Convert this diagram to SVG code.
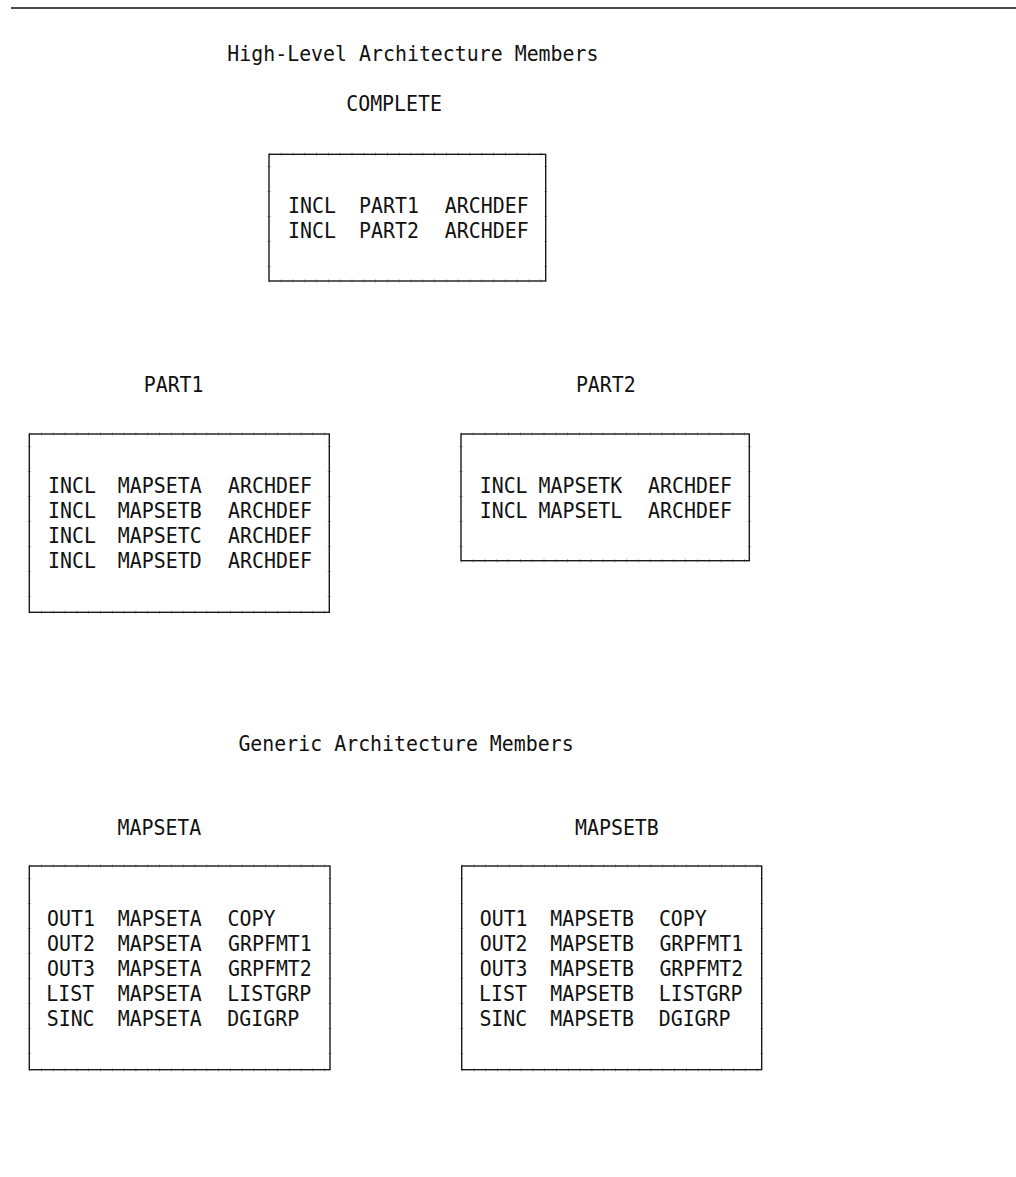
<svg xmlns="http://www.w3.org/2000/svg" width="1016" height="1177" viewBox="0 0 1016 1177">
<style>
  text { font-family: "DejaVu Sans Mono", "Liberation Mono", monospace; font-size: 19.9px; fill: #111; }
  .box { fill: none; stroke: #1a1a1a; stroke-width: 1.4; }
  .tickh { stroke: #b0b0b0; stroke-width: 3.5; stroke-dasharray: 0.8 11; fill: none; }
  .tickv { stroke: #b0b0b0; stroke-width: 3.5; stroke-dasharray: 0.8 24.2; fill: none; }
</style>
<rect x="0" y="0" width="1016" height="1177" fill="#ffffff"/>
<line x1="11" y1="8" x2="1016" y2="8" stroke="#111" stroke-width="1.5"/>

<g id="titles">
  <text transform="translate(227.3,60.5) scale(1,1.1)">High-Level Architecture Members</text>
  <text transform="translate(238.4,751) scale(1,1.1)">Generic Architecture Members</text>
</g>

<g id="node-complete">
  <text transform="translate(346.2,111) scale(1,1.1)">COMPLETE</text>
  <path class="tickh" d="M269 154.3H545.7M269 281H545.7"/>
  <path class="tickv" d="M269 166.3V281M545.7 166.3V281"/>
  <rect class="box" x="269" y="154.3" width="276.7" height="126.7"/>
  <text transform="translate(288,213.3) scale(1,1.1)">INCL</text>
  <text transform="translate(359,213.3) scale(1,1.1)">PART1</text>
  <text transform="translate(444.8,213.3) scale(1,1.1)">ARCHDEF</text>
  <text transform="translate(288,238.3) scale(1,1.1)">INCL</text>
  <text transform="translate(359,238.3) scale(1,1.1)">PART2</text>
  <text transform="translate(444.8,238.3) scale(1,1.1)">ARCHDEF</text>
</g>

<g id="node-part1">
  <text transform="translate(143.7,392) scale(1,1.1)">PART1</text>
  <path class="tickh" d="M29.3 434H329.3M29.3 612.3H329.3"/>
  <path class="tickv" d="M29.3 446V612.3M329.3 446V612.3"/>
  <rect class="box" x="29.3" y="434" width="300" height="178.3"/>
  <text transform="translate(48,493.3) scale(1,1.1)">INCL</text>
  <text transform="translate(117.8,493.3) scale(1,1.1)">MAPSETA</text>
  <text transform="translate(228.1,493.3) scale(1,1.1)">ARCHDEF</text>
  <text transform="translate(48,518.3) scale(1,1.1)">INCL</text>
  <text transform="translate(117.8,518.3) scale(1,1.1)">MAPSETB</text>
  <text transform="translate(228.1,518.3) scale(1,1.1)">ARCHDEF</text>
  <text transform="translate(48,543.3) scale(1,1.1)">INCL</text>
  <text transform="translate(117.8,543.3) scale(1,1.1)">MAPSETC</text>
  <text transform="translate(228.1,543.3) scale(1,1.1)">ARCHDEF</text>
  <text transform="translate(48,568.3) scale(1,1.1)">INCL</text>
  <text transform="translate(117.8,568.3) scale(1,1.1)">MAPSETD</text>
  <text transform="translate(228.1,568.3) scale(1,1.1)">ARCHDEF</text>
</g>

<g id="node-part2">
  <text transform="translate(575.9,392) scale(1,1.1)">PART2</text>
  <path class="tickh" d="M461 434H749.3M461 560.7H749.3"/>
  <path class="tickv" d="M461 446V560.7M749.3 446V560.7"/>
  <rect class="box" x="461" y="434" width="288.3" height="126.7"/>
  <text transform="translate(479.7,493.3) scale(1,1.1)">INCL</text>
  <text transform="translate(538.5,493.3) scale(1,1.1)">MAPSETK</text>
  <text transform="translate(648.1,493.3) scale(1,1.1)">ARCHDEF</text>
  <text transform="translate(479.7,518.3) scale(1,1.1)">INCL</text>
  <text transform="translate(538.5,518.3) scale(1,1.1)">MAPSETL</text>
  <text transform="translate(648.1,518.3) scale(1,1.1)">ARCHDEF</text>
</g>

<g id="node-mapseta">
  <text transform="translate(117.5,834.5) scale(1,1.1)">MAPSETA</text>
  <path class="tickh" d="M29.3 866H330M29.3 1069.7H330"/>
  <path class="tickv" d="M29.3 878V1069.7M330 878V1069.7"/>
  <rect class="box" x="29.3" y="866" width="300.7" height="203.7"/>
  <text transform="translate(47,925.7) scale(1,1.1)">OUT1</text>
  <text transform="translate(117.8,925.7) scale(1,1.1)">MAPSETA</text>
  <text transform="translate(227.5,925.7) scale(1,1.1)">COPY</text>
  <text transform="translate(47,950.7) scale(1,1.1)">OUT2</text>
  <text transform="translate(117.8,950.7) scale(1,1.1)">MAPSETA</text>
  <text transform="translate(228,950.7) scale(1,1.1)">GRPFMT1</text>
  <text transform="translate(47,975.7) scale(1,1.1)">OUT3</text>
  <text transform="translate(117.8,975.7) scale(1,1.1)">MAPSETA</text>
  <text transform="translate(228,975.7) scale(1,1.1)">GRPFMT2</text>
  <text transform="translate(46.3,1000.7) scale(1,1.1)">LIST</text>
  <text transform="translate(117.8,1000.7) scale(1,1.1)">MAPSETA</text>
  <text transform="translate(227.3,1000.7) scale(1,1.1)">LISTGRP</text>
  <text transform="translate(46.7,1025.7) scale(1,1.1)">SINC</text>
  <text transform="translate(117.8,1025.7) scale(1,1.1)">MAPSETA</text>
  <text transform="translate(227.3,1025.7) scale(1,1.1)">DGIGRP</text>
</g>

<g id="node-mapsetb">
  <text transform="translate(575,834.5) scale(1,1.1)">MAPSETB</text>
  <path class="tickh" d="M461.7 866H761.7M461.7 1069.7H761.7"/>
  <path class="tickv" d="M461.7 878V1069.7M761.7 878V1069.7"/>
  <rect class="box" x="461.7" y="866" width="300" height="203.7"/>
  <text transform="translate(479.7,925.7) scale(1,1.1)">OUT1</text>
  <text transform="translate(550.2,925.7) scale(1,1.1)">MAPSETB</text>
  <text transform="translate(658.9,925.7) scale(1,1.1)">COPY</text>
  <text transform="translate(479.7,950.7) scale(1,1.1)">OUT2</text>
  <text transform="translate(550.2,950.7) scale(1,1.1)">MAPSETB</text>
  <text transform="translate(659.4,950.7) scale(1,1.1)">GRPFMT1</text>
  <text transform="translate(479.7,975.7) scale(1,1.1)">OUT3</text>
  <text transform="translate(550.2,975.7) scale(1,1.1)">MAPSETB</text>
  <text transform="translate(659.4,975.7) scale(1,1.1)">GRPFMT2</text>
  <text transform="translate(479,1000.7) scale(1,1.1)">LIST</text>
  <text transform="translate(550.2,1000.7) scale(1,1.1)">MAPSETB</text>
  <text transform="translate(658.7,1000.7) scale(1,1.1)">LISTGRP</text>
  <text transform="translate(479.4,1025.7) scale(1,1.1)">SINC</text>
  <text transform="translate(550.2,1025.7) scale(1,1.1)">MAPSETB</text>
  <text transform="translate(658.7,1025.7) scale(1,1.1)">DGIGRP</text>
</g>

<g id="connectors"></g>
</svg>
